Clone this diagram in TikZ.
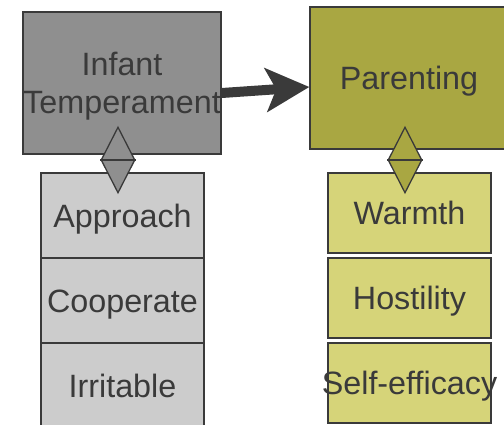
\documentclass[tikz,border=0pt]{standalone}
\usepackage{fontspec}
\setmainfont{Liberation Sans}
\usetikzlibrary{arrows.meta, shapes.geometric}
\definecolor{inkgray}{HTML}{3A3A3A}
\definecolor{tempgray}{HTML}{8F8F8F}
\definecolor{dimgray}{HTML}{CCCCCC}
\definecolor{parolive}{HTML}{A9A742}
\definecolor{dimolive}{HTML}{D6D479}
\tikzset{>={Stealth[length=44pt, width=45pt, inset=11pt, line width=0pt]},
  bigbox/.style={draw=inkgray, line width=1.6pt, minimum width=198pt, minimum height=142pt,
    inner sep=0pt, align=center, text=inkgray, font=\fontsize{32.3}{38}\selectfont},
  dimbox/.style={draw=inkgray, line width=1.6pt, minimum width=163pt, inner sep=0pt,
    text=inkgray, text height=23pt, text depth=0pt, font=\fontsize{32.3}{38}\selectfont},
  link/.style={diamond, draw=inkgray, line width=1.3pt, minimum width=34pt, minimum height=66pt, inner sep=0pt}}

\begin{document}
\begin{tikzpicture}[x=1pt, y=-1pt]
     \useasboundingbox (0,0) rectangle (504,424);
     % the two main constructs
     \node[bigbox, fill=tempgray, text depth=0pt] (temp) at (122,83) {Infant\\Temperament};
     \node[bigbox, fill=parolive, text height=23pt, text depth=0pt] (par) at (409,78) {Parenting};
     \draw[->, line width=10pt, inkgray] ([yshift=-10pt]temp.east) -- ([yshift=-9pt]par.west);
     % temperament dimensions
     \node[dimbox, fill=dimgray, minimum height=85pt] (appr) at (122.5,215.5) {Approach};
     \node[dimbox, fill=dimgray, minimum height=85pt] (coop) at (122.5,300.5) {Cooperate};
     \node[dimbox, fill=dimgray, minimum height=85pt] (irr) at (122.5,385.5) {Irritable};
     % parenting dimensions
     \node[dimbox, fill=dimolive, minimum height=80pt] (warm) at (409.5,213) {Warmth};
     \node[dimbox, fill=dimolive, minimum height=80pt] (host) at (409.5,298) {Hostility};
     \node[dimbox, fill=dimolive, minimum height=80pt, inner xsep=-10pt] (eff) at (409.5,383) {Self-efficacy};
     % connectors
     \node[link, fill=tempgray] (tlink) at (118,160) {};
     \draw[inkgray, line width=1.3pt] (tlink.west) -- (tlink.east);
     \node[link, fill=parolive] (plink) at (405,160) {};
     \draw[inkgray, line width=1.3pt] (plink.west) -- (plink.east);
\end{tikzpicture}
\end{document}
